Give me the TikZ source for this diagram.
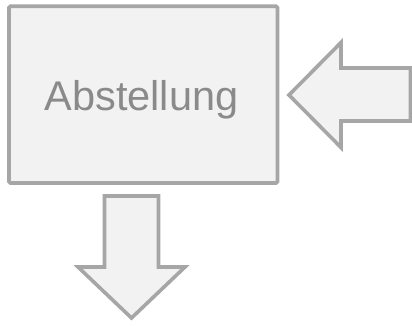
\documentclass[tikz,border=0pt]{standalone}
\usepackage{fontspec}
\setmainfont{Liberation Sans}
\definecolor{edgegray}{HTML}{A6A6A6}
\definecolor{fillgray}{HTML}{F2F2F2}
\definecolor{textgray}{HTML}{8A8A8A}
\begin{document}
\begin{tikzpicture}[x=1pt,y=-1pt,
  boxstyle/.style={draw=edgegray,fill=fillgray,line width=3.7pt,rounded corners=1.5pt,inner sep=0pt},
  blockarrow/.style={draw=edgegray,fill=fillgray,line width=3.6pt,line join=miter},
  labelstyle/.style={text=textgray,font=\fontsize{41.5}{48}\selectfont,inner sep=0pt}]
\useasboundingbox (0,0) rectangle (412,326);
\node[boxstyle,minimum width=268.5pt,minimum height=176.7pt] (box) at (143.25,94.65) {};
\node[labelstyle,anchor=base] (lbl) at (141.5,110.5) {Abstellung};
% incoming arrow from the right
\coordinate (intip) at (289,95);
\draw[blockarrow] (intip) -- (341,42.5) -- (341,68) -- (410.5,68) -- (410.5,121) -- (341,121) -- (341,147.5) -- cycle;
% outgoing arrow downward
\coordinate (outtip) at (131.5,318);
\draw[blockarrow] (104.5,196) -- (158.5,196) -- (158.5,267) -- (185,267) -- (outtip) -- (78,267) -- (104.5,267) -- cycle;
\end{tikzpicture}
\end{document}
